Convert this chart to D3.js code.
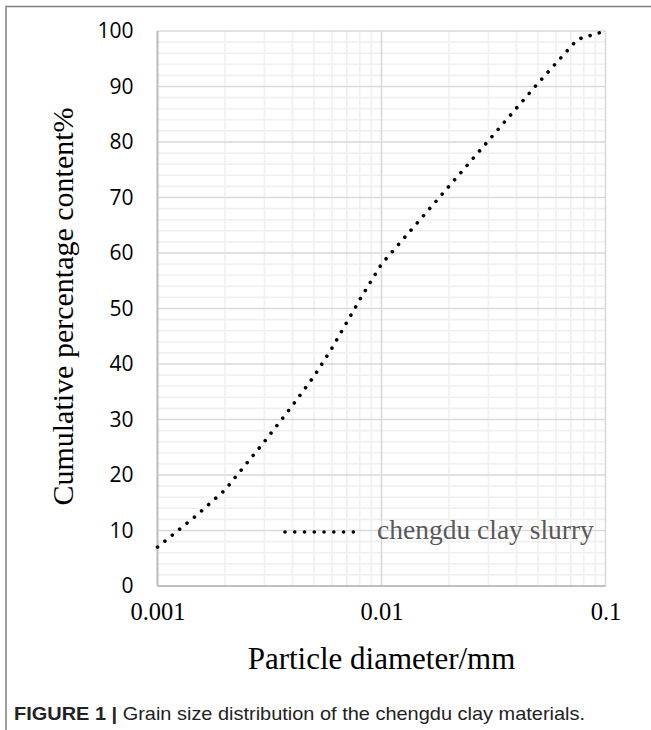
<!DOCTYPE html>
<html>
<head>
<meta charset="utf-8">
<script src="https://cdn.jsdelivr.net/npm/d3@7"></script>
<style>
  html, body { margin: 0; padding: 0; background: #fff; }
</style>
</head>
<body>
<div id="chart"></div>
<script>
// grain size data
const diameters = [0.001, 0.0015, 0.002, 0.003, 0.004, 0.005, 0.006, 0.008, 0.01, 0.02, 0.05, 0.075, 0.1];
const percents = [7, 12.8, 17.3, 26, 32.5, 37.8, 42.8, 51.6, 58, 72, 90.6, 98.5, 100];
const xTicks = [0.001, 0.01, 0.1];
const yTicks = [0, 10, 20, 30, 40, 50, 60, 70, 80, 90, 100];
const seriesName = 'chengdu clay slurry';

const width = 651;
const height = 730;
const margin = { left: 157.5, right: 45.5, top: 31, bottom: 144 };

const svg = d3.select('#chart')
  .append('svg')
  .attr('width', width)
  .attr('height', height);

const x = d3.scaleLog()
  .domain([0.001, 0.1])
  .range([margin.left, width - margin.right]);

const y = d3.scaleLinear()
  .domain([0, 100])
  .range([height - margin.bottom, margin.top]);

// frame lines (top and left)
svg.append('path')
  .attr('d', `M6,${height} V6.5 H${width}`)
  .attr('fill', 'none')
  .attr('stroke', '#808080')
  .attr('stroke-width', 1.5);

// minor grid
const minorX = [];
for (let e = -3; e < -1; e++) {
  for (let m = 2; m <= 9; m++) minorX.push(m * Math.pow(10, e));
}
const minorY = d3.range(0, 101, 2).filter(v => v % 10 !== 0);

const grid = svg.append('g');
grid.selectAll('line.mx')
  .data(minorX)
  .enter()
  .append('line')
  .attr('x1', d => x(d)).attr('x2', d => x(d))
  .attr('y1', y(0)).attr('y2', y(100))
  .attr('stroke', '#f0f0f0')
  .attr('stroke-width', 1.6);
grid.selectAll('line.my')
  .data(minorY)
  .enter()
  .append('line')
  .attr('x1', x(0.001)).attr('x2', x(0.1))
  .attr('y1', d => y(d)).attr('y2', d => y(d))
  .attr('stroke', '#f0f0f0')
  .attr('stroke-width', 1.6);

// major grid
grid.selectAll('line.Mx')
  .data(xTicks)
  .enter()
  .append('line')
  .attr('x1', d => x(d)).attr('x2', d => x(d))
  .attr('y1', y(0)).attr('y2', y(100))
  .attr('stroke', '#d9d9d9')
  .attr('stroke-width', 1.6);
grid.selectAll('line.My')
  .data(yTicks)
  .enter()
  .append('line')
  .attr('x1', x(0.001)).attr('x2', x(0.1))
  .attr('y1', d => y(d)).attr('y2', d => y(d))
  .attr('stroke', '#d9d9d9')
  .attr('stroke-width', 1.6);

// axis lines
svg.append('line')
  .attr('x1', x(0.001)).attr('x2', x(0.001))
  .attr('y1', y(0)).attr('y2', y(100))
  .attr('stroke', '#bfbfbf').attr('stroke-width', 2);
svg.append('line')
  .attr('x1', x(0.001)).attr('x2', x(0.1))
  .attr('y1', y(0)).attr('y2', y(0))
  .attr('stroke', '#bfbfbf').attr('stroke-width', 2);

// y tick labels
const yAxis = svg.append('g')
  .attr('transform', `translate(${margin.left},0)`)
  .call(d3.axisLeft(y).tickValues(yTicks).tickSize(0).tickPadding(24));
yAxis.select('.domain').remove();
yAxis.selectAll('text')
  .attr('font-family', '"Open Sans", "Noto Sans", sans-serif')
  .attr('font-size', 21)
  .attr('fill', '#000');

// x tick labels
const xAxis = svg.append('g')
  .attr('transform', `translate(0,${y(0)})`)
  .call(d3.axisBottom(x).tickValues(xTicks).tickFormat(d3.format('')).tickSize(0).tickPadding(17));
xAxis.select('.domain').remove();
xAxis.selectAll('text')
  .attr('font-family', '"Liberation Serif", "Times New Roman", serif')
  .attr('font-size', 24.5)
  .attr('fill', '#000');

// the dotted series line
const line = d3.line()
  .x((d, i) => x(diameters[i]))
  .y(d => y(d));

svg.append('path')
  .datum(percents)
  .attr('d', line)
  .attr('fill', 'none')
  .attr('stroke', '#000')
  .attr('stroke-width', 3.6)
  .attr('stroke-linecap', 'round')
  .attr('stroke-dasharray', '0.01 9.5');

// legend
const legend = svg.append('g').attr('transform', `translate(285,${y(10) + 1.5})`);
legend.append('line')
  .attr('x1', 0).attr('x2', 78)
  .attr('stroke', '#000')
  .attr('stroke-width', 3.6)
  .attr('stroke-linecap', 'round')
  .attr('stroke-dasharray', '0.01 9.75');
legend.append('text')
  .attr('x', 92)
  .attr('y', 7)
  .attr('font-family', '"Liberation Serif", "Times New Roman", serif')
  .attr('font-size', 27.5)
  .attr('fill', '#595959')
  .text(seriesName);

// axis titles
svg.append('text')
  .attr('x', x(0.01))
  .attr('y', 669)
  .attr('text-anchor', 'middle')
  .attr('font-family', '"Liberation Serif", "Times New Roman", serif')
  .attr('font-size', 31)
  .attr('fill', '#000')
  .text('Particle diameter/mm');

svg.append('text')
  .attr('transform', `translate(73,${y(50) - 2}) rotate(-90)`)
  .attr('text-anchor', 'middle')
  .attr('font-family', '"Liberation Serif", "Times New Roman", serif')
  .attr('font-size', 30)
  .attr('fill', '#000')
  .text('Cumulative percentage content%');

// caption
const caption = svg.append('text')
  .attr('x', 14)
  .attr('y', 720)
  .attr('font-family', '"Liberation Sans Narrow", "Arial Narrow", "Liberation Sans", sans-serif')
  .attr('font-size', 19)
  .attr('textLength', 571)
  .attr('lengthAdjust', 'spacingAndGlyphs')
  .attr('fill', '#222');
caption.append('tspan').attr('font-weight', 'bold').text('FIGURE 1 | ');
caption.append('tspan').text('Grain size distribution of the chengdu clay materials.');
</script>
</body>
</html>
